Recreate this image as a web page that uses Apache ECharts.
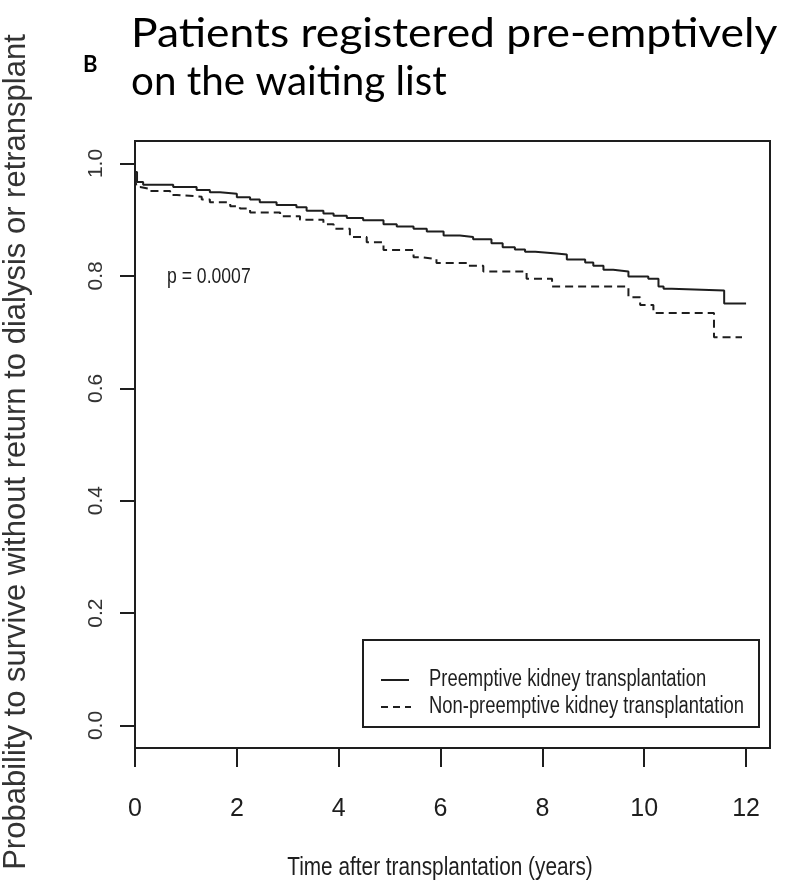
<!DOCTYPE html>
<html>
<head>
<meta charset="utf-8">
<script src="https://cdn.jsdelivr.net/npm/echarts@6/dist/echarts.min.js"></script>
<style>
  html, body { margin: 0; padding: 0; background: #fff; }
  #chart { width: 804px; height: 892px; }
</style>
</head>
<body>
<div id="chart"></div>
<script>
// Kaplan-Meier step curves: [years after transplantation, survival probability]
const preemptive = [
  [0, 0.985], [0.04, 0.967], [0.16, 0.962], [0.75, 0.958], [1.21, 0.953], [1.47, 0.949],
  [1.67, 0.946], [2.0, 0.940], [2.26, 0.936], [2.45, 0.931], [2.78, 0.926], [3.17, 0.922],
  [3.37, 0.916], [3.70, 0.911], [3.90, 0.907], [4.16, 0.903], [4.48, 0.899], [4.88, 0.892],
  [5.14, 0.888], [5.47, 0.884], [5.73, 0.879], [6.06, 0.872], [6.38, 0.869], [6.64, 0.865],
  [7.0, 0.858], [7.22, 0.851], [7.46, 0.847], [7.66, 0.843], [7.86, 0.840], [8.28, 0.838],
  [8.48, 0.829], [8.84, 0.824], [9.0, 0.818], [9.2, 0.811], [9.39, 0.808], [9.69, 0.799],
  [10.08, 0.795], [10.28, 0.781], [10.38, 0.777], [10.54, 0.774], [11.57, 0.751], [12.0, 0.751]
];
const nonPreemptive = [
  [0, 0.975], [0.03, 0.958], [0.1, 0.955], [0.29, 0.951], [0.69, 0.944], [0.82, 0.941],
  [1.31, 0.936], [1.47, 0.931], [1.87, 0.924], [2.06, 0.920], [2.26, 0.913], [2.85, 0.906],
  [3.24, 0.900], [3.70, 0.892], [3.90, 0.884], [4.22, 0.869], [4.55, 0.860], [4.88, 0.846],
  [5.47, 0.833], [5.66, 0.830], [5.92, 0.823], [6.55, 0.818], [6.84, 0.808], [7.69, 0.795],
  [8.19, 0.781], [9.69, 0.762], [9.92, 0.748], [10.18, 0.734], [11.37, 0.691], [11.92, 0.691]
];
const xTicks = [0, 2, 4, 6, 8, 10, 12];
const yTicks = [0.0, 0.2, 0.4, 0.6, 0.8, 1.0];
const seriesNames = ['Preemptive kidney transplantation', 'Non-preemptive kidney transplantation'];
const pValueText = 'p = 0.0007';
const titleLines = ['Patients registered pre-emptively', 'on the waiting list'];
const panelLetter = 'B';
const xTitle = 'Time after transplantation (years)';
const yTitle = 'Probability to survive without return to dialysis or retransplant';

const INK = '#1e1e1e';
const SANS = '"Liberation Sans", Arial, sans-serif';
const CONDENSE = 0.8; // horizontal squeeze giving a narrow sans look

const chart = echarts.init(document.getElementById('chart'), null, { renderer: 'canvas' });

// narrow-looking text block
function narrowText(x, y, text, size, align, extra) {
  return Object.assign({
    type: 'text', x: x, y: y, scaleX: CONDENSE, scaleY: 1,
    style: { text: text, font: size + 'px ' + SANS, fill: INK,
      textAlign: align, textVerticalAlign: 'middle' }
  }, extra || {});
}

chart.setOption({
  backgroundColor: '#ffffff',
  animation: false,
  grid: {
    left: 135, top: 141, width: 635, height: 607,
    show: true, borderColor: INK, borderWidth: 2, backgroundColor: 'transparent'
  },
  xAxis: {
    type: 'value', min: 0, max: 12.47, interval: 2,
    axisLine: { show: false, onZero: false },
    axisTick: { show: true, length: 19, lineStyle: { color: INK, width: 2 },
      customValues: xTicks },
    axisLabel: { show: true, margin: 49, fontFamily: SANS, fontSize: 25, color: INK,
      customValues: xTicks, formatter: v => String(v) },
    splitLine: { show: false }
  },
  yAxis: {
    type: 'value', min: -0.04, max: 1.04,
    axisLine: { show: false, onZero: false },
    axisTick: { show: true, length: 15, lineStyle: { color: INK, width: 2 },
      customValues: yTicks },
    axisLabel: { show: true, rotate: 90, margin: 28, fontFamily: SANS, fontSize: 21, color: '#333',
      customValues: yTicks, formatter: v => v.toFixed(1) },
    splitLine: { show: false }
  },
  series: [
    {
      name: seriesNames[0], type: 'line', step: 'end', data: preemptive,
      symbol: 'none', lineStyle: { color: INK, width: 2, type: 'solid' }
    },
    {
      name: seriesNames[1], type: 'line', step: 'end', data: nonPreemptive,
      symbol: 'none', lineStyle: { color: INK, width: 2, type: [8, 5] }
    }
  ],
  graphic: [
    // heading
    { type: 'text', x: 131, y: 14, scaleX: 1.11, style: { text: titleLines[0], font: '40px Lato', fill: '#000' } },
    { type: 'text', x: 131, y: 62, scaleX: 1.01, style: { text: titleLines[1], font: '40px Lato', fill: '#000' } },
    { type: 'text', x: 83, y: 54, style: { text: panelLetter, font: 'bold 22px Lato', fill: '#000' } },
    // axis titles
    narrowText(440, 868, xTitle, 26, 'center'),
    { type: 'text', x: 16, y: 452, rotation: Math.PI / 2,
      style: { text: yTitle, font: '31px ' + SANS, fill: '#333',
      textAlign: 'center', textVerticalAlign: 'middle' } },
    // p-value annotation
    narrowText(167, 277, pValueText, 22, 'left'),
    // legend box
    { type: 'rect', shape: { x: 363, y: 640, width: 396, height: 87 },
      style: { fill: '#fff', stroke: INK, lineWidth: 2 }, z: 10 },
    { type: 'line', shape: { x1: 381, y1: 680, x2: 409, y2: 680 },
      style: { stroke: INK, lineWidth: 2 }, z: 11 },
    { type: 'line', shape: { x1: 381, y1: 707, x2: 411, y2: 707 },
      style: { stroke: INK, lineWidth: 2, lineDash: [7, 5] }, z: 11 },
    narrowText(429, 680, seriesNames[0], 23, 'left', { z: 11 }),
    narrowText(429, 707, seriesNames[1], 23, 'left', { z: 11 })
  ]
});
</script>
</body>
</html>
